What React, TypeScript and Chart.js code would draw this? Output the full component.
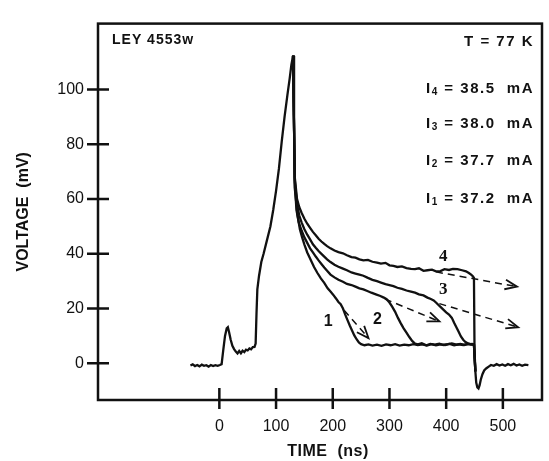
import React, { useEffect, useRef } from 'react';
import { Chart, registerables } from 'chart.js';

Chart.register(...registerables);

// ---------------- data (time in ns, voltage in mV) ----------------
const xTickValues = [0, 100, 200, 300, 400, 500];
const yTickValues = [0, 20, 40, 60, 80, 100];

const riseTime = [-51, -47, -43, -39, -35, -31, -27, -23, -19, -15, -11, -7, -3, 1, 4, 7, 10, 13, 15, 17, 20, 23, 26, 29, 32, 35, 38, 41, 44, 47, 50, 53, 56, 59, 62, 64, 65.5, 67, 70, 74, 78, 84, 90, 95, 100, 105, 110, 115, 120, 124, 127, 130];
const riseVoltage = [-0.8, -0.4, -1.0, -0.6, -1.1, -0.5, -0.9, -0.7, -1.2, -0.6, -1.0, -0.7, -0.9, -0.6, -0.3, 5, 10, 12.8, 13.2, 11.5, 8.6, 6.4, 5.2, 4.3, 3.6, 4.5, 3.7, 4.6, 4.1, 5.0, 4.7, 5.4, 5.1, 5.9, 6.0, 7.2, 18, 27, 32, 37, 40, 45, 50, 56, 63, 71, 81, 90, 98, 104, 109, 112.4];

const curve1Time = [130, 131.5, 133, 135, 138, 142, 146, 150, 155, 161, 167, 173, 179, 185, 191, 196, 201, 206, 210, 214, 218, 222, 226, 230, 234, 238, 242, 246, 250, 256, 263, 270, 278, 286, 294, 302, 310, 318, 326, 334, 342, 350, 358, 366, 374, 382, 390, 398, 406, 414, 422, 430, 438, 444, 449, 451.5];
const curve1Voltage = [112.4, 90, 64, 60, 54, 49, 46, 43.4, 40.5, 37.8, 35.2, 33, 31, 29.4, 27.4, 26.2, 25, 23.6, 22.4, 21.6, 20, 17.8, 15.8, 13.8, 12, 10.2, 8.8, 7.6, 7.0, 6.6, 6.9, 6.5, 6.8, 6.4, 6.9, 6.6, 7.0, 6.5, 6.8, 6.6, 7.0, 6.7, 6.9, 6.5, 7.0, 6.6, 6.9, 6.7, 7.1, 6.6, 6.9, 6.7, 7.0, 6.8, 6.8, -3];

const curve2Time = [130, 131.5, 133, 136, 140, 145, 150, 155, 160, 165, 170, 175, 180, 185, 190, 196, 203, 210, 218, 225, 233, 240, 247, 254, 261, 268, 276, 284, 290, 295, 300, 305, 310, 315, 320, 325, 330, 335, 340, 345, 350, 357, 365, 372, 380, 388, 395, 403, 410, 418, 425, 432, 439, 445, 449, 451.5];
const curve2Voltage = [112.4, 90, 66, 56, 51.5, 48.5, 46, 44, 42, 40.5, 39, 37.6, 36.3, 35, 33.8, 32.4, 31.4, 30.5, 29.8, 29, 28.6, 28, 27.4, 27, 26.4, 25.8, 25.2, 24.6, 24.0, 23.4, 22.2, 20.6, 18.8, 16.6, 14.6, 12.8, 11.2, 9.6, 8.2, 7.2, 6.9, 7.3, 6.6, 7.1, 6.8, 7.2, 6.7, 7.0, 7.3, 6.8, 7.1, 6.7, 7.2, 6.9, 6.8, -3];

const curve3Time = [130, 131.5, 133, 137, 141, 145, 150, 155, 160, 165, 170, 175, 180, 185, 190, 196, 203, 210, 218, 225, 233, 240, 247, 254, 262, 270, 278, 285, 293, 300, 307, 314, 322, 330, 338, 345, 352, 360, 367, 373, 378, 382, 386, 390, 395, 400, 405, 410, 414, 418, 422, 426, 430, 434, 438, 442, 446, 449, 451.5];
const curve3Voltage = [112.4, 90, 67, 58, 54, 51.5, 49, 47, 45.3, 43.5, 42.2, 41, 40, 39, 38, 37, 36, 35.3, 34.6, 34, 33.2, 32.8, 32.4, 32, 31.2, 30.5, 30, 29.5, 28.9, 28.6, 28.2, 27.6, 27.2, 26.6, 26.2, 25.8, 25.2, 24.8, 24.0, 23.5, 23.0, 22.2, 21.4, 20.6, 19.6, 18.6, 17.8, 16.6, 14.8, 13.2, 11.5, 9.8, 8.6, 7.8, 7.3, 7.0, 7.1, 6.8, -3];

const curve4Time = [130, 131.5, 133, 137, 141, 145, 150, 155, 160, 165, 170, 175, 180, 185, 190, 196, 203, 210, 218, 225, 233, 240, 247, 254, 262, 270, 278, 285, 293, 300, 307, 314, 322, 330, 338, 345, 352, 360, 367, 375, 382, 390, 397, 405, 412, 420, 428, 435, 440, 444, 447, 449, 450, 451.5];
const curve4Voltage = [112.4, 90, 68, 60, 57, 55, 52.8, 51, 49.5, 48, 46.8, 45.5, 44.5, 43.6, 42.8, 42, 41.2, 40.6, 40.2, 39.5, 38.8, 38.6, 38.0, 37.6, 37.8, 37.1, 36.8, 36.4, 36.7, 35.8, 35.6, 35.2, 35.4, 34.8, 34.5, 34.4, 34.7, 33.8, 34.0, 34.2, 33.6, 33.7, 34.4, 34.1, 34.5, 34.4, 34.0, 33.6, 33.0, 32.4, 31.8, 31.2, 5, -3];

const tailTime = [451.5, 453, 455, 457, 459, 461, 464, 467, 471, 475, 479, 484, 489, 494, 499, 504, 509, 514, 519, 524, 529, 534, 539, 545];
const tailVoltage = [-3, -7, -8.8, -9.2, -8, -6, -4, -2.6, -1.8, -1.2, -0.6, -0.9, -0.3, -0.8, -0.4, -0.9, -0.3, -0.7, -0.2, -0.8, -0.4, -0.9, -0.5, -0.7];

const arrow1Time = [220, 263];
const arrow1Voltage = [19.4, 9.2];
const arrow2Time = [292, 388];
const arrow2Voltage = [23.5, 15.3];
const arrow3Time = [388, 527];
const arrow3Voltage = [21.8, 13.2];
const arrow4Time = [382, 525];
const arrow4Voltage = [33.4, 28];

const curveLabelText = ['1', '2', '3', '4'];
const curveLabelTime = [192, 279, 395, 395];
const curveLabelVoltage = [15.4, 15.8, 27, 38.8];

const currentSubscripts = ['4', '3', '2', '1'];
const currentValues = ['38.5', '38.0', '37.7', '37.2'];

const xAxisTitle = 'TIME  (ns)';
const yAxisTitle = 'VOLTAGE  (mV)';

// ---------------- styling ----------------
const SANS = '"Liberation Sans", Arial, Helvetica, sans-serif';
const SERIF = '"Liberation Serif", "Times New Roman", serif';
const INK = '#111';

const zip = (t: number[], v: number[]) => t.map((x, i) => ({ x, y: v[i] }));

const overlayPlugin = {
  id: 'overlay',
  afterDatasetsDraw(chart: any) {
    const ctx = chart.ctx;
    chart.data.datasets.forEach((ds: any, i: number) => {
      if (!ds.isArrow) return;
      const pts = chart.getDatasetMeta(i).data;
      const a = pts[pts.length - 2];
      const b = pts[pts.length - 1];
      const ang = Math.atan2(b.y - a.y, b.x - a.x);
      const len = 13;
      const spread = 0.38;
      ctx.save();
      ctx.setLineDash([]);
      ctx.strokeStyle = INK;
      ctx.lineWidth = 1.8;
      ctx.beginPath();
      ctx.moveTo(b.x - len * Math.cos(ang - spread), b.y - len * Math.sin(ang - spread));
      ctx.lineTo(b.x, b.y);
      ctx.lineTo(b.x - len * Math.cos(ang + spread), b.y - len * Math.sin(ang + spread));
      ctx.stroke();
      ctx.restore();
    });
  },
  afterDraw(chart: any) {
    const { ctx, chartArea: ca, scales } = chart;
    const xs = scales.x;
    const ys = scales.y;
    ctx.save();
    ctx.strokeStyle = INK;
    ctx.lineWidth = 2.5;
    ctx.setLineDash([]);
    ctx.strokeRect(ca.left, ca.top, ca.right - ca.left, ca.bottom - ca.top);
    ctx.beginPath();
    xs.ticks.forEach((t: any) => {
      const px = xs.getPixelForValue(t.value);
      ctx.moveTo(px, ca.bottom - 12);
      ctx.lineTo(px, ca.bottom + 9);
    });
    ys.ticks.forEach((t: any) => {
      const py = ys.getPixelForValue(t.value);
      ctx.moveTo(ca.left - 11, py);
      ctx.lineTo(ca.left + 11, py);
    });
    ctx.stroke();

    ctx.fillStyle = INK;
    ctx.textBaseline = 'middle';
    const c: any = ctx;

    // x-axis title
    c.letterSpacing = '0.5px';
    ctx.font = `bold 16px ${SANS}`;
    ctx.textAlign = 'center';
    ctx.fillText(xAxisTitle, (ca.left + ca.right) / 2 + 8, ca.bottom + 52);

    // top-left sample name
    c.letterSpacing = '1px';
    ctx.font = `bold 14px ${SANS}`;
    ctx.textAlign = 'left';
    ctx.fillText('LEY 4553w', ca.left + 14, ca.top + 17);

    // temperature
    c.letterSpacing = '1.5px';
    ctx.font = `bold 15px ${SANS}`;
    ctx.textAlign = 'right';
    ctx.fillText('T = 77 K', ca.right - 8, ca.top + 18);

    // currents
    ctx.textAlign = 'left';
    const rowOffsets = [65, 100, 137, 175];
    currentSubscripts.forEach((sub, i) => {
      const y = ca.top + rowOffsets[i];
      const rest = ` = ${currentValues[i]}  mA`;
      ctx.font = `bold 15px ${SANS}`;
      const wI = ctx.measureText('I').width;
      const wR = ctx.measureText(rest).width;
      ctx.font = `bold 10px ${SANS}`;
      const wS = ctx.measureText(sub).width;
      let x = ca.right - 8 - (wI + wS + wR);
      ctx.font = `bold 15px ${SANS}`;
      ctx.fillText('I', x, y);
      x += wI;
      ctx.font = `bold 10px ${SANS}`;
      ctx.fillText(sub, x, y + 4);
      x += wS;
      ctx.font = `bold 15px ${SANS}`;
      ctx.fillText(rest, x, y);
    });

    // curve numbers
    c.letterSpacing = '0px';
    ctx.textAlign = 'center';
    curveLabelText.forEach((txt, i) => {
      ctx.font = i < 2 ? `bold 16px ${SANS}` : `bold 17px ${SERIF}`;
      ctx.fillText(txt, xs.getPixelForValue(curveLabelTime[i]), ys.getPixelForValue(curveLabelVoltage[i]));
    });
    ctx.restore();
  },
};

const lineDs = (t: number[], v: number[]) => ({
  data: zip(t, v),
  borderColor: INK,
  borderWidth: 2.3,
  pointRadius: 0,
  showLine: true,
  tension: 0,
  fill: false,
});

const arrowDs = (t: number[], v: number[]) => ({
  data: zip(t, v),
  borderColor: INK,
  borderWidth: 1.5,
  borderDash: [7, 5],
  pointRadius: 0,
  showLine: true,
  tension: 0,
  fill: false,
  isArrow: true,
});

export default function App() {
  const canvasRef = useRef<HTMLCanvasElement | null>(null);

  useEffect(() => {
    if (!canvasRef.current) return;
    const chart = new Chart(canvasRef.current, {
      type: 'scatter',
      data: {
        datasets: [
          lineDs(riseTime, riseVoltage),
          lineDs(curve1Time, curve1Voltage),
          lineDs(curve2Time, curve2Voltage),
          lineDs(curve3Time, curve3Voltage),
          lineDs(curve4Time, curve4Voltage),
          lineDs(tailTime, tailVoltage),
          arrowDs(arrow1Time, arrow1Voltage),
          arrowDs(arrow2Time, arrow2Voltage),
          arrowDs(arrow3Time, arrow3Voltage),
          arrowDs(arrow4Time, arrow4Voltage),
        ] as any,
      },
      options: {
        animation: false,
        responsive: false,
        devicePixelRatio: 1,
        layout: { padding: { top: 8, right: 7, left: 0, bottom: 0 } },
        plugins: { legend: { display: false }, tooltip: { enabled: false } },
        scales: {
          x: {
            type: 'linear',
            min: -214,
            max: 569,
            afterBuildTicks: (s: any) => {
              s.ticks = xTickValues.map((v) => ({ value: v }));
            },
            afterFit: (s: any) => {
              s.height = 61;
            },
            grid: { display: false, drawTicks: false },
            border: { display: false },
            ticks: {
              autoSkip: false,
              maxRotation: 0,
              padding: 17,
              color: INK,
              font: { family: SANS, size: 16 },
            },
            title: { display: false },
          },
          y: {
            type: 'linear',
            min: -13.4,
            max: 124.1,
            afterBuildTicks: (s: any) => {
              s.ticks = yTickValues.map((v) => ({ value: v }));
            },
            afterFit: (s: any) => {
              s.width = 98;
            },
            grid: { display: false, drawTicks: false },
            border: { display: false },
            ticks: {
              autoSkip: false,
              padding: 14,
              color: INK,
              font: { family: SANS, size: 16 },
            },
            title: {
              display: true,
              text: yAxisTitle,
              color: INK,
              font: { family: SANS, size: 16, weight: 'bold' },
              padding: { top: 14, bottom: 0 },
            },
          },
        },
      } as any,
      plugins: [overlayPlugin],
    });
    return () => chart.destroy();
  }, []);

  return (
    <div style={{ position: 'absolute', left: 0, top: 0, width: 549, height: 461, background: '#fff' }}>
      <canvas ref={canvasRef} width={549} height={461} style={{ display: 'block' }} />
    </div>
  );
}
